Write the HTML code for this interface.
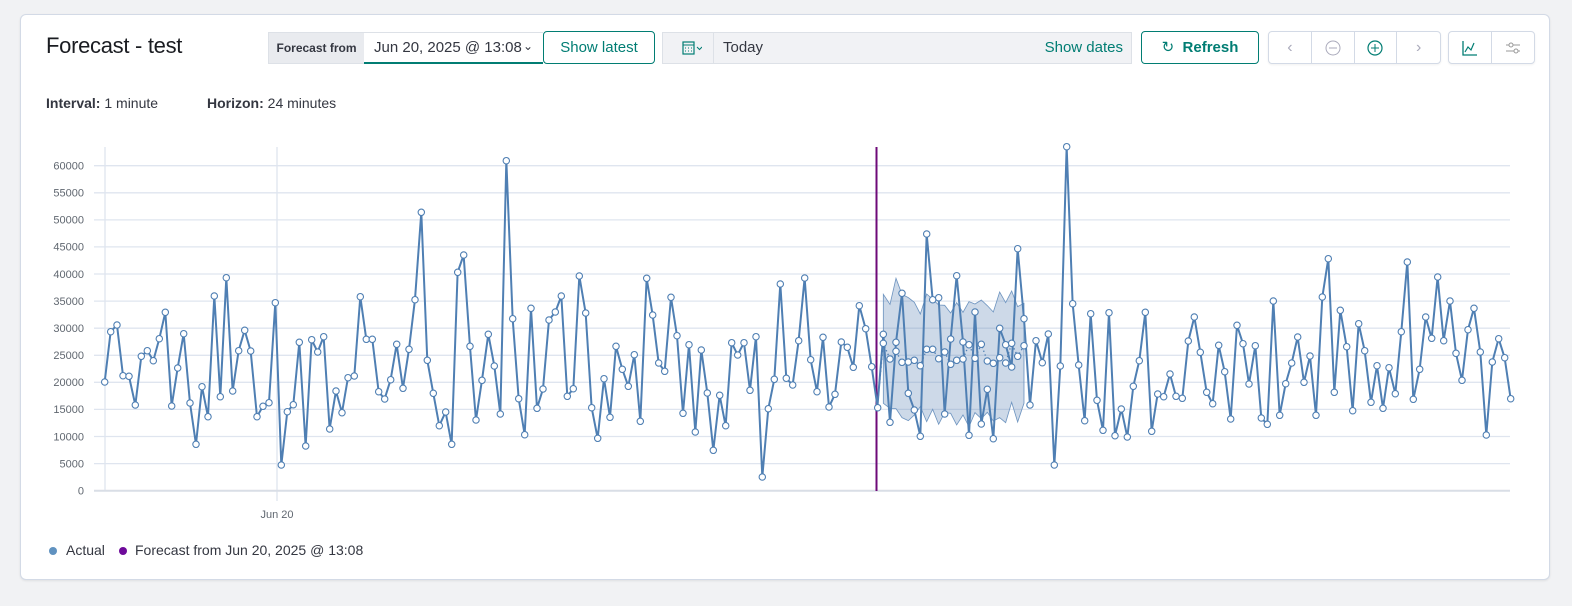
<!DOCTYPE html>
<html><head><meta charset="utf-8"><style>
*{box-sizing:border-box;margin:0;padding:0}
body{width:1572px;height:606px;background:#f1f2f4;font-family:"Liberation Sans",sans-serif;position:relative;overflow:hidden;color:#1a1c21}
.card{position:absolute;left:20px;top:14px;width:1530px;height:566px;background:#fff;border:1px solid #d3dae6;border-radius:6px;box-shadow:0 1px 2px rgba(0,0,0,.08)}
.abs{position:absolute}
.title{left:46px;top:33px;font-size:22px;letter-spacing:-0.3px;color:#1a1c21}
.lbl{left:268px;top:32px;width:97px;height:32px;background:#e9ebef;border:1px solid #dde1e7;font-size:12px;font-weight:bold;line-height:30px;text-align:center;color:#343741}
.date{left:364px;top:32px;width:179px;height:32px;background:#fff;border-top:1px solid #dde1e7;border-bottom:2px solid #017d73;font-size:15px;line-height:29px;padding-left:10px;color:#343741}
.btn{top:31px;height:33px;border:1px solid #017d73;border-radius:4px;background:#fff;color:#017d73;font-size:15px;text-align:center;line-height:31px}
.dp{left:662px;top:32px;width:470px;height:32px;background:#f1f2f5;border:1px solid #dde1e7;font-size:15px;line-height:30px;color:#343741}
.grp{top:31px;height:33px;border:1px solid #d3dae6;border-radius:4px;background:#fff;box-shadow:0 1px 2px rgba(0,0,0,.06);display:flex}
.grp div{border-right:1px solid #d3dae6;height:100%;display:flex;align-items:center;justify-content:center}
.grp div:last-child{border-right:none}
.info{top:95px;font-size:14px;color:#343741}
</style></head><body>
<div class="card"></div>
<div class="abs title">Forecast - test</div>
<div class="abs lbl">Forecast from</div>
<div class="abs date">Jun 20, 2025 @ 13:08<span style="position:absolute;right:10px;top:-1px;font-size:12px">&#8964;</span></div>
<div class="abs btn" style="left:543px;width:112px">Show latest</div>
<div class="abs dp"><div style="position:absolute;left:0;top:0;width:51px;height:30px;border-right:1px solid #dde1e7;text-align:center;color:#017d73;font-size:13px">
<svg width="28" height="30" viewBox="0 0 28 30"><rect x="9" y="9" width="11" height="12" fill="none" stroke="#017d73" stroke-width="1.2"/><line x1="9" y1="12" x2="20" y2="12" stroke="#017d73"/><path d="M11 15h1M14 15h1M17 15h1M11 18h1M14 18h1M17 18h1" stroke="#017d73"/><path d="M23 14l2.5 2.5 2.5-2.5" fill="none" stroke="#017d73"/></svg></div>
<span style="position:absolute;left:60px">Today</span><span style="position:absolute;right:8px;color:#017d73">Show dates</span></div>
<div class="abs btn" style="left:1141px;width:118px;font-weight:bold"><span style="font-weight:normal">&#8635;</span>&nbsp; Refresh</div>
<div class="abs grp" style="left:1268px;width:173px">
<div style="width:43px;color:#aab;font-size:16px">&#8249;</div>
<div style="width:43px"><svg width="16" height="16"><circle cx="8" cy="8" r="7" fill="none" stroke="#aab"/><line x1="4" y1="8" x2="12" y2="8" stroke="#aab"/></svg></div>
<div style="width:43px"><svg width="16" height="16"><circle cx="8" cy="8" r="7" fill="none" stroke="#017d73" stroke-width="1.2"/><line x1="4" y1="8" x2="12" y2="8" stroke="#017d73"/><line x1="8" y1="4" x2="8" y2="12" stroke="#017d73"/></svg></div>
<div style="width:43px;color:#aab;font-size:16px">&#8250;</div></div>
<div class="abs grp" style="left:1448px;width:87px">
<div style="width:43px"><svg width="18" height="18"><path d="M2 2v14h14" fill="none" stroke="#017d73" stroke-width="1.3"/><path d="M4 13l3-5 3 3 3-7" fill="none" stroke="#017d73" stroke-width="1.2"/></svg></div>
<div style="width:43px"><svg width="18" height="18"><path d="M2 6h14M2 12h14" stroke="#999"/><circle cx="7" cy="6" r="2" fill="#fff" stroke="#999"/><circle cx="12" cy="12" r="2" fill="#fff" stroke="#999"/></svg></div></div>
<div class="abs info" style="left:46px"><b>Interval:</b> 1 minute</div>
<div class="abs info" style="left:207px"><b>Horizon:</b> 24 minutes</div>

<svg class="abs" style="left:0;top:0" width="1572" height="606">
<g stroke="#dfe5ef" stroke-width="1.3">
<line x1="94" x2="1510" y1="165.7" y2="165.7"/><line x1="94" x2="1510" y1="192.8" y2="192.8"/><line x1="94" x2="1510" y1="219.9" y2="219.9"/><line x1="94" x2="1510" y1="246.9" y2="246.9"/><line x1="94" x2="1510" y1="274" y2="274"/><line x1="94" x2="1510" y1="301.1" y2="301.1"/><line x1="94" x2="1510" y1="328.2" y2="328.2"/><line x1="94" x2="1510" y1="355.3" y2="355.3"/><line x1="94" x2="1510" y1="382.3" y2="382.3"/><line x1="94" x2="1510" y1="409.4" y2="409.4"/><line x1="94" x2="1510" y1="436.5" y2="436.5"/><line x1="94" x2="1510" y1="463.6" y2="463.6"/>
<line x1="105" x2="105" y1="147" y2="491"/><line x1="277" x2="277" y1="147" y2="501"/>
</g>
<line x1="94" x2="1510" y1="490.7" y2="490.7" stroke="#d9dee6" stroke-width="2"/>
<g font-size="11" fill="#606770" text-anchor="end" font-family="Liberation Sans,sans-serif">
<text x="84" y="169.5">60000</text><text x="84" y="196.6">55000</text><text x="84" y="223.7">50000</text><text x="84" y="250.7">45000</text><text x="84" y="277.8">40000</text><text x="84" y="304.9">35000</text><text x="84" y="332">30000</text><text x="84" y="359.1">25000</text><text x="84" y="386.1">20000</text><text x="84" y="413.2">15000</text><text x="84" y="440.3">10000</text><text x="84" y="467.4">5000</text><text x="84" y="494.5">0</text>
<text x="277" y="518" text-anchor="middle">Jun 20</text></g>

<!-- forecast band (zoom5 coords) -->
<g transform="translate(860,140) scale(0.3333)">
<polygon fill="rgba(90,130,180,0.3)" stroke="#6f95c0" stroke-width="2.5" points="70,463 90,493 108,415 126,463 145,473 163,487 181,522 200,462 218,478 236,495 254,496 272,519 290,488 309,517 327,485 345,492 364,480 382,497 400,516 419,456 437,488 455,453 473,500 492,490 492,790 473,846 455,787 437,848 419,833 400,843 382,817 364,836 345,818 327,860 309,825 290,855 272,820 254,818 236,853 218,808 200,845 181,800 163,825 145,842 126,833 108,806 90,805 70,790"/>
<polyline fill="none" stroke="#4f7fb3" stroke-width="4" stroke-dasharray="4 8" points="52,803 70,610 90,657 108,634 126,667 145,666 163,661 181,677 200,628 218,628 236,656 254,636 272,673 290,661 309,657 327,614 345,655 364,613 382,663 400,670 419,653 437,669 455,610 473,649 492,617"/>
</g>
<line x1="876.5" x2="876.5" y1="147" y2="491" stroke="#6e0a78" stroke-width="2"/>

<g fill="none" stroke="#4f7fb3" stroke-width="6" stroke-linejoin="round">
<polyline transform="translate(40,140) scale(0.3333)" points="194,726 212,575 231,555 249,707 267,709 286,795 304,649 322,632 340,662 358,596 376,517 395,798 413,684 431,581 450,789 468,913 486,740 504,830 523,468 541,770 559,413 578,753 596,632 614,571 632,633 651,830 669,799 687,788 706,488 724,975 742,815 760,794 778,607 797,918 815,599 833,636 851,590 869,867 888,753 906,818 924,713 943,708 961,470 979,598 997,598 1016,755 1034,777 1052,719 1070,613 1089,745 1107,628 1125,479 1144,217 1162,661 1180,760 1198,857 1217,816 1235,913 1253,397 1271,345 1290,619 1308,840 1326,721 1345,583"/>
<polyline transform="translate(480,140) scale(0.3333)" points="25,583 43,678 61,822 79,62 98,536 116,776 134,884 153,505 171,805 189,747 207,540 226,516 244,468 262,769 280,746 298,408 317,519 335,803 353,895 372,716 390,832 408,619 427,688 445,739 463,644 481,844 500,415 518,525 536,669 554,694 573,472 591,587 609,820 627,614 646,876 664,630 682,759 700,931 719,766 737,857 755,608 773,645 792,608 810,751 828,590 847,1011 865,806 883,718 901,432 919,715 938,735 956,602 974,414 992,659 1011,755 1029,592 1047,801 1065,763 1084,606 1102,622 1120,682 1138,497 1157,566 1175,680 1193,803"/>
<polyline transform="translate(860,140) scale(0.3333)" points="52,803 70,583 90,847 108,607 126,460 145,760 163,810 181,889 200,282 218,479 236,473 254,822 272,597 290,407 309,606 327,886 345,516 364,852 382,748 400,896 419,565 437,614 455,681 473,326 492,536 510,795 528,602 547,668 565,582 583,975 601,678 620,20 638,491 656,675 674,842 692,521 711,781 729,871 747,518 765,887 784,807 802,891 820,739 838,662 856,517 875,874 893,762 911,770 930,702 948,769"/>
<polyline transform="translate(1170,140) scale(0.3333)" points="18,768 37,775 55,603 73,531 91,637 110,757 128,791 146,616 164,695 182,837 201,556 219,611 237,732 256,617 274,834 292,853 310,483 329,826 347,731 365,669 383,591 402,727 420,648 438,826 457,471 475,356 493,757 511,511 530,620 548,812 566,551 584,632 603,787 621,677 639,805 657,683 676,761 694,575 712,366 730,778 749,688 767,531 785,595 803,411 821,602 840,483 858,640 876,721 894,569 912,505 931,636 949,885 967,666 986,596 1004,653 1022,776"/>
</g>
</svg>
<svg id="dots" class="abs" style="left:0;top:0" width="1572" height="606"></svg>
<script>
var sets=[[40,"194,726 212,575 231,555 249,707 267,709 286,795 304,649 322,632 340,662 358,596 376,517 395,798 413,684 431,581 450,789 468,913 486,740 504,830 523,468 541,770 559,413 578,753 596,632 614,571 632,633 651,830 669,799 687,788 706,488 724,975 742,815 760,794 778,607 797,918 815,599 833,636 851,590 869,867 888,753 906,818 924,713 943,708 961,470 979,598 997,598 1016,755 1034,777 1052,719 1070,613 1089,745 1107,628 1125,479 1144,217 1162,661 1180,760 1198,857 1217,816 1235,913 1253,397 1271,345 1290,619 1308,840 1326,721 1345,583"],
[480,"43,678 61,822 79,62 98,536 116,776 134,884 153,505 171,805 189,747 207,540 226,516 244,468 262,769 280,746 298,408 317,519 335,803 353,895 372,716 390,832 408,619 427,688 445,739 463,644 481,844 500,415 518,525 536,669 554,694 573,472 591,587 609,820 627,614 646,876 664,630 682,759 700,931 719,766 737,857 755,608 773,645 792,608 810,751 828,590 847,1011 865,806 883,718 901,432 919,715 938,735 956,602 974,414 992,659 1011,755 1029,592 1047,801 1065,763 1084,606 1102,622 1120,682 1138,497 1157,566 1175,680 1193,803"],
[860,"70,583 90,847 108,607 126,460 145,760 163,810 181,889 200,282 218,479 236,473 254,822 272,597 290,407 309,606 327,886 345,516 364,852 382,748 400,896 419,565 437,614 455,681 473,326 492,536 510,795 528,602 547,668 565,582 583,975 601,678 620,20 638,491 656,675 674,842 692,521 711,781 729,871 747,518 765,887 784,807 802,891 820,739 838,662 856,517 875,874 893,762 911,770 930,702 948,769"],
[860,"70,610 90,657 108,634 126,667 145,666 163,661 181,677 200,628 218,628 236,656 254,636 272,673 290,661 309,657 327,614 345,655 364,613 382,663 400,670 419,653 437,669 455,610 473,649 492,617"],
[1170,"37,775 55,603 73,531 91,637 110,757 128,791 146,616 164,695 182,837 201,556 219,611 237,732 256,617 274,834 292,853 310,483 329,826 347,731 365,669 383,591 402,727 420,648 438,826 457,471 475,356 493,757 511,511 530,620 548,812 566,551 584,632 603,787 621,677 639,805 657,683 676,761 694,575 712,366 730,778 749,688 767,531 785,595 803,411 821,602 840,483 858,640 876,721 894,569 912,505 931,636 949,885 967,666 986,596 1004,653 1022,776"]];
var h="";sets.forEach(function(s){s[1].split(" ").forEach(function(p){var a=p.split(",");h+='<circle cx="'+(s[0]+a[0]/3).toFixed(1)+'" cy="'+(140+a[1]/3).toFixed(1)+'" r="3.2" fill="#fff" stroke="#4f7fb3" stroke-width="1.1"/>';});});
document.getElementById("dots").innerHTML=h;
</script>
<svg class="abs" style="left:47px;top:545px" width="12" height="12"><circle cx="6" cy="6" r="4" fill="#6092c0"/></svg>
<div class="abs" style="left:66px;top:542px;font-size:14px;color:#343741">Actual</div>
<svg class="abs" style="left:117px;top:545px" width="12" height="12"><circle cx="6" cy="6" r="4" fill="#6e0a9a"/></svg>
<div class="abs" style="left:135px;top:542px;font-size:14px;color:#343741">Forecast from Jun 20, 2025 @ 13:08</div>
</body></html>
